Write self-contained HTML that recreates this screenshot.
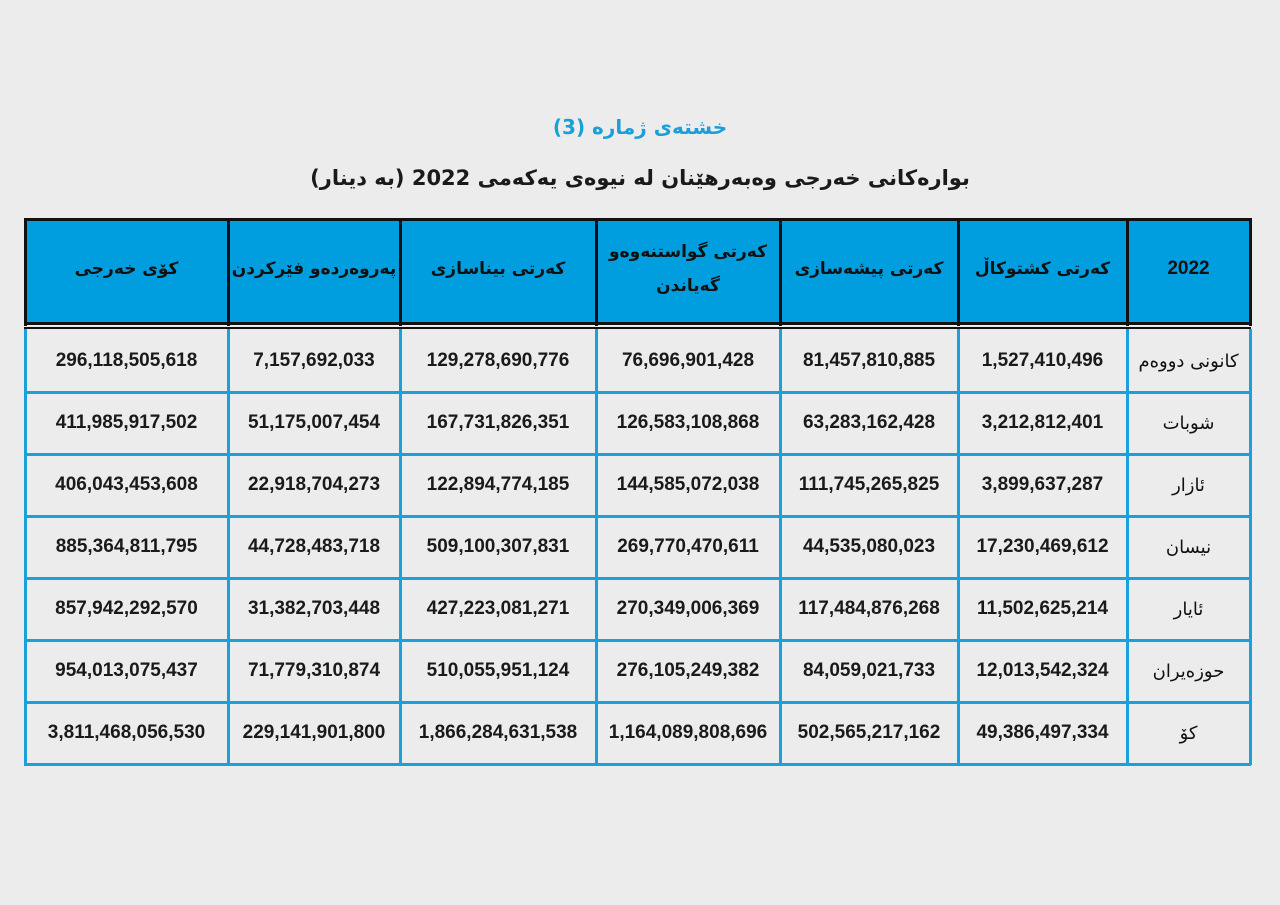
<!DOCTYPE html><html><head><meta charset="utf-8"><style>
body{margin:0;width:1280px;height:905px;background:#ececec;position:relative;overflow:hidden;font-family:"DejaVu Sans","Liberation Sans",sans-serif}
.a{position:absolute}
.t{position:absolute;display:flex;align-items:center;justify-content:center;text-align:center;font-weight:bold;color:#1a1a1a}
.n{font-family:"Liberation Sans",sans-serif;font-size:19px;font-weight:bold}
.ar{font-size:18px;font-weight:normal;direction:rtl}
</style></head><body>
<div class="t" style="left:0;width:1280px;top:110px;height:34px;color:#1a9fd8;font-size:20px;direction:rtl">خشتەی ژمارە (3)</div>
<div class="t" style="left:0;width:1280px;top:160px;height:36px;font-size:21px;direction:rtl">بوارەکانی خەرجی وەبەرهێنان لە نیوەی یەکەمی 2022 (بە دینار)</div>
<div class="a" style="left:25px;top:219px;width:1225px;height:106px;background:#009ede"></div>
<div id="g"></div>
<script>
const xs=[25,228,400,596,780,958,1127,1250];
let h='';
h+=`<div class="a" style="left:24px;top:218px;width:1227px;height:3px;background:#111"></div>`;
h+=`<div class="a" style="left:24px;top:322px;width:1227px;height:3px;background:#111"></div>`;
h+=`<div class="a" style="left:24px;top:327px;width:1227px;height:2px;background:#111"></div>`;
xs.forEach(x=>{h+=`<div class="a" style="left:${x-1}px;top:218px;width:3px;height:108px;background:#111"></div>`;});
const ys=[330,392,454,516,578,640,702,764];
ys.forEach((y,i)=>{if(i>0)h+=`<div class="a" style="left:24px;top:${y-1}px;width:1227px;height:3px;background:#1ba0dc"></div>`;});
xs.forEach(x=>{h+=`<div class="a" style="left:${x-1}px;top:329px;width:3px;height:436px;background:#1ba0dc"></div>`;});
const head=["کۆی خەرجی","پەروەردەو فێرکردن","کەرتی بیناسازی","کەرتی گواستنەوەو<br>گەیاندن","کەرتی پیشەسازی","کەرتی کشتوکاڵ","2022"];
head.forEach((t,i)=>{h+=`<div class="t ${i==6?'n':'ar'}" style="left:${xs[i]}px;width:${xs[i+1]-xs[i]}px;top:221px;height:96px;line-height:34px;color:#111;${i==6?'':'font-weight:bold;font-size:17px'}">${t}</div>`;});
const rows=[
["296,118,505,618","7,157,692,033","129,278,690,776","76,696,901,428","81,457,810,885","1,527,410,496","کانونی دووەم"],
["411,985,917,502","51,175,007,454","167,731,826,351","126,583,108,868","63,283,162,428","3,212,812,401","شوبات"],
["406,043,453,608","22,918,704,273","122,894,774,185","144,585,072,038","111,745,265,825","3,899,637,287","ئازار"],
["885,364,811,795","44,728,483,718","509,100,307,831","269,770,470,611","44,535,080,023","17,230,469,612","نیسان"],
["857,942,292,570","31,382,703,448","427,223,081,271","270,349,006,369","117,484,876,268","11,502,625,214","ئایار"],
["954,013,075,437","71,779,310,874","510,055,951,124","276,105,249,382","84,059,021,733","12,013,542,324","حوزەیران"],
["3,811,468,056,530","229,141,901,800","1,866,284,631,538","1,164,089,808,696","502,565,217,162","49,386,497,334","کۆ"]];
rows.forEach((r,j)=>r.forEach((t,i)=>{h+=`<div class="t ${i==6?'ar':'n'}" style="left:${xs[i]}px;width:${xs[i+1]-xs[i]}px;top:${ys[j]}px;height:62px;${i==6?'font-size:18px;color:#111':''}">${t}</div>`;}));
document.getElementById('g').innerHTML=h;
</script>
</body></html>
